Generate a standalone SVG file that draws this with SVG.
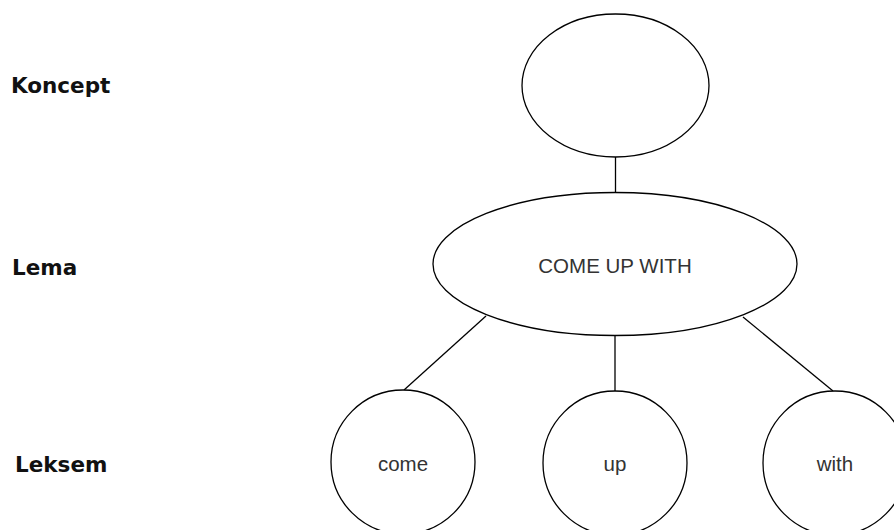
<svg xmlns="http://www.w3.org/2000/svg" width="894" height="530" viewBox="0 0 894 530">
  <style>
    .node { fill: #ffffff; stroke: #000000; stroke-width: 1.3; }
    .edge { stroke: #000000; stroke-width: 1.3; fill: none; }
    .level { font-family: "DejaVu Sans", sans-serif; font-weight: bold; font-size: 21.5px; fill: #111111; }
    .word { font-family: "Liberation Sans", Arial, sans-serif; font-size: 20.5px; fill: #333333; text-anchor: middle; }
  </style>
  <rect width="894" height="530" fill="#ffffff"/>

  <!-- level labels -->
  <g id="labels">
    <text class="level" x="11" y="93">Koncept</text>
    <text class="level" x="12" y="275">Lema</text>
    <text class="level" x="15" y="472">Leksem</text>
  </g>

  <!-- connectors -->
  <g id="connectors">
    <line class="edge" x1="615.5" y1="157" x2="615.5" y2="193"/>
    <line class="edge" x1="486" y1="316" x2="404" y2="390"/>
    <line class="edge" x1="615" y1="335.5" x2="615" y2="391"/>
    <line class="edge" x1="743" y1="317" x2="833" y2="391"/>
  </g>

  <g id="concept">
    <ellipse class="node" cx="615.5" cy="85.5" rx="93.5" ry="71.5"/>
  </g>

  <g id="lemma">
    <ellipse class="node" cx="615" cy="264" rx="182" ry="71.5"/>
    <text class="word" x="615" y="273">COME UP WITH</text>
  </g>

  <g id="lexeme-come">
    <circle class="node" cx="403" cy="462" r="72"/>
    <text class="word" x="403" y="471">come</text>
  </g>

  <g id="lexeme-up">
    <circle class="node" cx="615" cy="463" r="72"/>
    <text class="word" x="615" y="471">up</text>
  </g>

  <g id="lexeme-with">
    <circle class="node" cx="835" cy="463" r="72"/>
    <text class="word" x="835" y="471">with</text>
  </g>
</svg>
